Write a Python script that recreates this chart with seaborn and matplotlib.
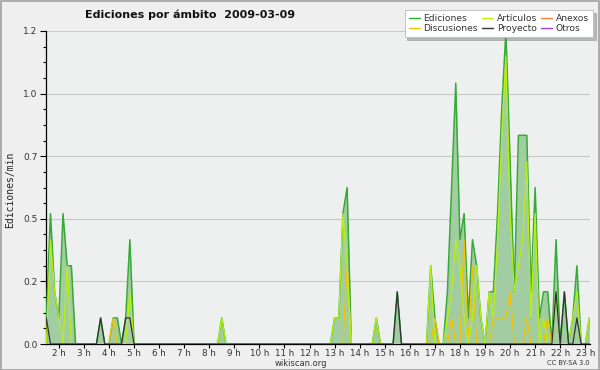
import numpy as np
import pandas as pd
import matplotlib
matplotlib.use("Agg")
import matplotlib.pyplot as plt
import seaborn as sns
from matplotlib.ticker import FixedLocator, FixedFormatter, MultipleLocator
from matplotlib.patches import Rectangle
from matplotlib.lines import Line2D

# ---- data: edits/min in 10-minute bins, bin 0 = 01:30, bin 130 = 23:10 ----
start_hour = 1.5
n_bins = 131

ediciones_nz = {0: 0.1, 1: 0.5, 2: 0.2, 3: 0.1, 4: 0.5, 5: 0.3, 6: 0.3, 13: 0.1,
                16: 0.1, 17: 0.1, 19: 0.1, 20: 0.4, 42: 0.1, 69: 0.1, 70: 0.1,
                71: 0.5, 72: 0.6, 79: 0.1, 84: 0.2, 92: 0.3, 93: 0.1, 96: 0.2,
                97: 0.6, 98: 1.0, 99: 0.4, 100: 0.5, 101: 0.1, 102: 0.4, 103: 0.3,
                104: 0.1, 106: 0.2, 107: 0.2, 108: 0.5, 109: 0.9, 110: 1.2,
                111: 0.7, 112: 0.2, 113: 0.8, 114: 0.8, 115: 0.8, 116: 0.2,
                117: 0.6, 118: 0.1, 119: 0.2, 120: 0.2, 122: 0.4, 124: 0.2,
                126: 0.1, 127: 0.3, 130: 0.1}
articulos_nz = {1: 0.4, 2: 0.2, 3: 0.1, 5: 0.3, 20: 0.2, 42: 0.1, 69: 0.1, 70: 0.1,
                71: 0.5, 72: 0.3, 79: 0.1, 92: 0.3, 96: 0.1, 97: 0.2, 98: 0.4,
                99: 0.3, 100: 0.1, 102: 0.1, 103: 0.3, 104: 0.1, 106: 0.2,
                107: 0.1, 108: 0.4, 109: 0.8, 110: 1.1, 111: 0.5, 112: 0.2,
                113: 0.3, 114: 0.4, 115: 0.7, 116: 0.1, 117: 0.5, 119: 0.1,
                122: 0.2, 126: 0.1, 127: 0.2, 130: 0.1}
discusiones_nz = {16: 0.1, 72: 0.3, 93: 0.1, 97: 0.1, 100: 0.4, 102: 0.3,
                  107: 0.1, 108: 0.1, 109: 0.1, 110: 0.1, 111: 0.2, 115: 0.1,
                  120: 0.1}
proyecto_nz = {0: 0.1, 13: 0.1, 19: 0.1, 20: 0.1, 84: 0.2, 122: 0.2, 124: 0.2,
               127: 0.1}
anexos_nz = {}
otros_nz = {}

series_names = ["Ediciones", "Discusiones", "Artículos", "Proyecto", "Anexos", "Otros"]
series_colors = ["#36aa36", "#f2c200", "#b8f010", "#333333", "#ff7f40", "#9b40ff"]
y_ticks = [0.0, 0.24, 0.48, 0.72, 0.96, 1.2]
y_tick_labels = ["0.0", "0.2", "0.5", "0.7", "1.0", "1.2"]
x_hours = list(range(2, 24))
x_tick_labels = [f"{h} h" for h in x_hours]
title = "Ediciones por ámbito  2009-03-09"


def full(nz):
    return [nz.get(i, 0.0) for i in range(n_bins)]


hours = [start_hour + i / 6 for i in range(n_bins)]
frames = []
for name, nz in zip(series_names, [ediciones_nz, discusiones_nz, articulos_nz,
                                   proyecto_nz, anexos_nz, otros_nz]):
    frames.append(pd.DataFrame({"hora": hours, "valor": full(nz), "ambito": name}))
df = pd.concat(frames, ignore_index=True)

sns.set_theme(style="white")
plt.rcParams["font.family"] = ["DejaVu Sans"]

bg = "#efefef"
fig = plt.figure(figsize=(6, 3.7), dpi=100, facecolor=bg)
ax = fig.add_axes([46 / 600, 26 / 370, 544 / 600, 313 / 370])
ax.set_facecolor("#eef0f0")

# fill under total
ed = df[df.ambito == "Ediciones"]
ax.fill_between(ed.hora, ed.valor, 0, color="#a2cca2", linewidth=0, zorder=1)

draw_order = ["Ediciones", "Anexos", "Otros", "Discusiones", "Artículos", "Proyecto"]
pal = dict(zip(series_names, series_colors))
widths = {"Ediciones": 1.1, "Artículos": 0.9, "Discusiones": 0.9,
          "Proyecto": 0.9, "Anexos": 0.9, "Otros": 0.9}
for i, name in enumerate(draw_order):
    sub = df[df.ambito == name]
    if sub.valor.max() <= 0:
        continue
    sns.lineplot(data=sub, x="hora", y="valor", color=pal[name], ax=ax,
                 linewidth=widths[name], zorder=3 + i, legend=False)

ax.set_xlim(1.488, 23.188)
ax.set_ylim(0, 1.2)
ax.set_xlabel("")
ax.set_ylabel("")

ax.yaxis.set_major_locator(FixedLocator(y_ticks))
ax.yaxis.set_major_formatter(FixedFormatter(y_tick_labels))
ax.yaxis.set_minor_locator(MultipleLocator(0.06))
ax.xaxis.set_major_locator(FixedLocator(x_hours))
ax.xaxis.set_major_formatter(FixedFormatter(x_tick_labels))
ax.xaxis.set_minor_locator(MultipleLocator(1 / 6))

for s in ["top", "right"]:
    ax.spines[s].set_visible(False)
for s in ["left", "bottom"]:
    ax.spines[s].set_color("black")
    ax.spines[s].set_linewidth(0.9)

ax.tick_params(axis="x", which="both", direction="out", length=3, width=0.8,
               color="black", labelsize=6.3, labelcolor="#333333", pad=0.6)
ax.tick_params(axis="y", which="major", direction="out", length=4, width=0.8,
               color="black", labelsize=6.5, labelcolor="#333333", pad=2)
ax.tick_params(axis="y", which="minor", direction="out", length=2.5, width=0.8,
               color="black")
ax.tick_params(axis="x", which="major", bottom=True)
ax.tick_params(axis="y", which="both", left=True)

for yv in y_ticks[1:]:
    ax.axhline(yv, color="#c8c8c8", linewidth=0.8, zorder=0.5)

fig.text(10 / 600, 1 - 190 / 370, "Ediciones/min", rotation=90, ha="center",
         va="center", fontsize=7, color="#222222", family="DejaVu Sans Mono")
fig.text(85 / 600, 1 - 15 / 370, title, ha="left", va="center",
         fontsize=8, fontweight="bold", color="#111111")
fig.text(301 / 600, 1 - 363.5 / 370, "wikiscan.org", ha="center", va="center",
         fontsize=6.0, color="#333333")
fig.text(590 / 600, 1 - 363 / 370, "CC BY-SA 3.0", ha="right", va="center",
         fontsize=4.8, color="#333333")

handles = [Line2D([0], [0], color=pal[n], linewidth=1.0) for n in series_names]
leg = fig.legend(handles, series_names, ncol=3, loc="upper right",
                 bbox_to_anchor=(593 / 600, 1 - 10 / 370), fontsize=6.6,
                 frameon=True, fancybox=False, shadow={"color": "#808080"},
                 handlelength=1.2, handletextpad=0.4, columnspacing=0.45,
                 labelspacing=0.12, borderpad=0.45, borderaxespad=0)
leg.get_frame().set_edgecolor("#bbbbbb")
leg.get_frame().set_linewidth(0.6)
leg.get_frame().set_facecolor("white")
for t in leg.get_texts():
    t.set_color("#333333")

fig.patches.append(Rectangle((0.5 / 600, 0.5 / 370), 598.5 / 600, 368.5 / 370,
                             transform=fig.transFigure, fill=False,
                             edgecolor="#a0a0a0", linewidth=1.2))

fig.savefig("out.png", dpi=100, facecolor=bg)
